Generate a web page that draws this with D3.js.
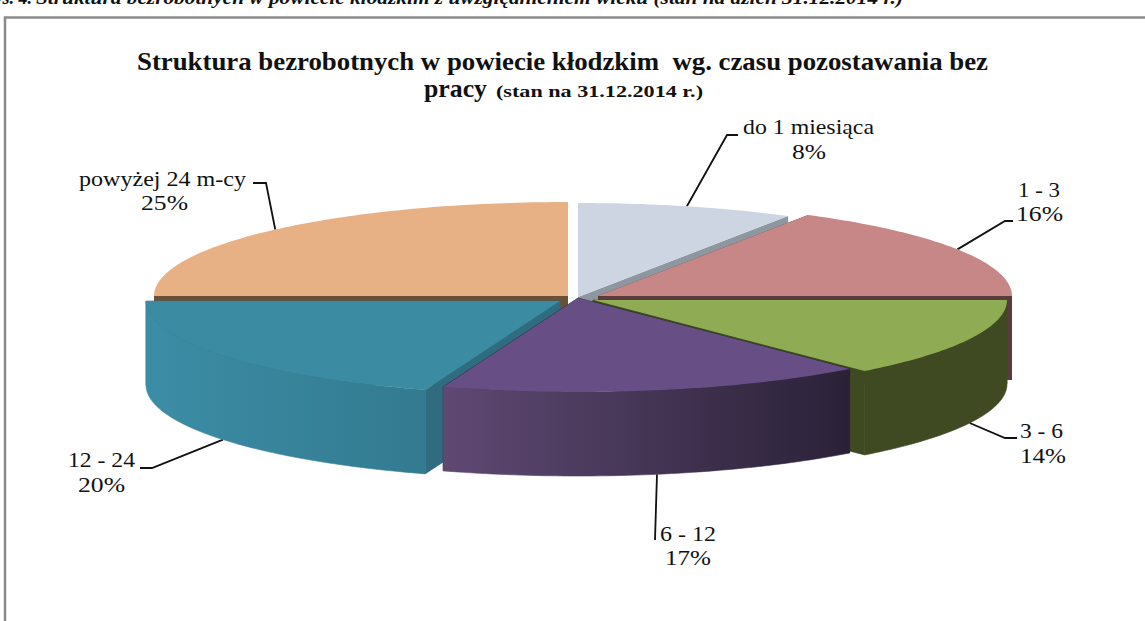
<!DOCTYPE html>
<html>
<head>
<meta charset="utf-8">
<script src="https://cdn.jsdelivr.net/npm/d3@7"></script>
<style>
  html, body { margin: 0; padding: 0; background: #fff; overflow: hidden; }
  text { font-family: "Liberation Serif", serif; fill: #111; white-space: pre; }
</style>
</head>
<body>
<svg id="chart" width="1145" height="621"></svg>
<script>
const categories = ["do 1 miesiąca", "1 - 3", "3 - 6", "6 - 12", "12 - 24", "powyżej 24 m-cy"];
const shares = [8, 16, 14, 17, 20, 25];

const titleLine1 = "Struktura bezrobotnych w powiecie kłodzkim  wg. czasu pozostawania bez";
const titleLine2 = "pracy";
const titleNote = "(stan na 31.12.2014 r.)";
const captionLead = "Rys. 4.";
const caption = "Struktura bezrobotnych w powiecie kłodzkim z uwzględnieniem wieku (stan na dzień 31.12.2014 r.)";

// layout of the exploded 3d pie, one entry per slice
const topColors = ["#cdd5e3", "#c78786", "#8fac54", "#674f85", "#3b8ba3", "#e8b185"];
const cutColors = ["#8e979f", "#5c3b3b", "#3f4a22", "#2a2137", "#2f6c80", "#6b5039"];
const wallGradients = [null, null, ["#3f4a22", "#3f4a22"], ["#5f4973", "#2a2137"], ["#3b8da5", "#337a90"], null];
const apexes = [[578, 297], [598, 296], [593, 300], [578, 298], [560, 301], [568, 296]];
const drawOrder = [5, 0, 1, 2, 4, 3];
const rx = 414, ry = 94, depth = 84;

// the original's 3d perspective does not keep angles exactly, so cumulative share -> drawn angle
const viewAngle = d3.scaleLinear()
  .domain([0, 8, 24, 38, 55, 75, 100])
  .range([0, 30.5, 90, 139, 199, 270, 360]);

const labelLayout = [
  { elbow: [[727, 135], [738, 135]], lines: [[743, 134, 131], [792, 159, 34]] },
  { elbow: [[1005, 221], [1013, 221]], lines: [[1018, 197, 42], [1016, 221, 47]] },
  { elbow: [[1005, 438], [1017, 438]], lines: [[1020, 438, 43], [1020, 463, 46]] },
  { elbow: [[655, 540]], lines: [[660, 541, 56], [665, 565, 46]] },
  { elbow: [[152, 468], [140, 468]], lines: [[68, 467, 67], [78, 492, 47]] },
  { elbow: [[266, 183], [253, 183]], lines: [[79, 186, 167], [141, 210, 47]] }
];

const svg = d3.select("#chart");
const defs = svg.append("defs");

const tau = 2 * Math.PI;
const pie = d3.pie().sort(null).value(d => d);
const arcs = pie(shares);
// pie radians back to percent of the whole, then to the drawn angle in degrees
const drawn = rad => viewAngle(rad / tau * 100);

function pointAt(i, deg, drop) {
  const t = deg * Math.PI / 180;
  return [apexes[i][0] + rx * Math.sin(t), apexes[i][1] - ry * Math.cos(t) + (drop || 0)];
}

// sampled outline of the rim between two drawn angles
function rim(i, a0, a1, drop) {
  const n = Math.max(2, Math.ceil(Math.abs(a1 - a0)));
  return d3.range(n + 1).map(k => pointAt(i, a0 + (a1 - a0) * k / n, drop));
}

const line = d3.line();

// frame and caption
svg.append("path")
  .attr("d", "M5,621V17.5H1145")
  .attr("fill", "none").attr("stroke", "#8a8a8a").attr("stroke-width", 2.5);

svg.append("text").attr("x", 32).attr("y", 4).attr("text-anchor", "end")
  .style("font", "italic bold 18px 'Liberation Serif'").text(captionLead);
svg.append("text").attr("x", 36).attr("y", 4)
  .attr("textLength", 867).attr("lengthAdjust", "spacingAndGlyphs")
  .style("font", "italic bold 18px 'Liberation Serif'").text(caption);

// title
svg.append("text").attr("x", 137).attr("y", 70)
  .attr("textLength", 851).attr("lengthAdjust", "spacingAndGlyphs")
  .style("font", "bold 25px 'Liberation Serif'").text(titleLine1);
svg.append("text").attr("x", 424).attr("y", 97)
  .attr("textLength", 63).attr("lengthAdjust", "spacingAndGlyphs")
  .style("font", "bold 25px 'Liberation Serif'").text(titleLine2);
svg.append("text").attr("x", 496).attr("y", 97)
  .attr("textLength", 207).attr("lengthAdjust", "spacingAndGlyphs")
  .style("font", "bold 16px 'Liberation Serif'").text(titleNote);

// leader lines go under the pie
const leaders = svg.append("g");

const slices = svg.append("g");
drawOrder.forEach(i => {
  const d = arcs[i];
  const a0 = drawn(d.startAngle), a1 = drawn(d.endAngle);
  const g = slices.append("g").attr("class", "slice");
  const apex = apexes[i];
  const hasWall = !!wallGradients[i];

  // cut walls, the thin stroke on front slices closes the seam against the outer wall
  [a0, a1].forEach(a => {
    const p = pointAt(i, a);
    g.append("path")
      .attr("d", line([apex, p, [p[0], p[1] + depth], [apex[0], apex[1] + depth]]) + "Z")
      .attr("fill", cutColors[i])
      .attr("stroke", hasWall ? cutColors[i] : "none").attr("stroke-width", 0.6);
  });

  // outer wall, only the front half of the rim shows
  const f0 = Math.max(a0, 90), f1 = Math.min(a1, 270);
  if (f1 > f0 && hasWall) {
    const top = rim(i, f0, f1, 0), bottom = rim(i, f0, f1, depth).reverse();
    const id = "wall" + i;
    const x0 = d3.min(top, p => p[0]), x1 = d3.max(top, p => p[0]);
    const grad = defs.append("linearGradient").attr("id", id)
      .attr("gradientUnits", "userSpaceOnUse")
      .attr("x1", x0).attr("x2", x1).attr("y1", 0).attr("y2", 0);
    grad.append("stop").attr("offset", 0).attr("stop-color", wallGradients[i][0]);
    grad.append("stop").attr("offset", 1).attr("stop-color", wallGradients[i][1]);
    g.append("path").attr("d", line(top.concat(bottom)) + "Z")
      .attr("fill", `url(#${id})`)
      .attr("stroke", `url(#${id})`).attr("stroke-width", 0.6);
  }

  // top face
  g.append("path")
    .attr("d", line([apex].concat(rim(i, a0, a1, 0))) + "Z")
    .attr("fill", topColors[i]);
});

// leaders and labels
arcs.forEach((d, i) => {
  const mid = drawn((d.startAngle + d.endAngle) / 2);
  const front = mid > 90 && mid < 270;
  const anchor = pointAt(i, mid, front ? depth : 0);
  leaders.append("path")
    .attr("d", line([anchor].concat(labelLayout[i].elbow)))
    .attr("fill", "none").attr("stroke", "#111").attr("stroke-width", 1.8);

  const texts = [categories[i], shares[i] + "%"];
  texts.forEach((t, k) => {
    const [x, y, w] = labelLayout[i].lines[k];
    svg.append("text").attr("x", x).attr("y", y)
      .attr("textLength", w).attr("lengthAdjust", "spacingAndGlyphs")
      .style("font-size", "22px").text(t);
  });
});
</script>
</body>
</html>
